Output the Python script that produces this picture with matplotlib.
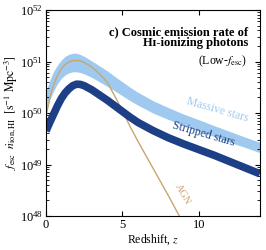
import numpy as np
import matplotlib
matplotlib.use("Agg")
from matplotlib import pyplot as plt

# redshift grid and log10 emission rates
z = [0, 0.25, 0.5, 0.75, 1, 1.25, 1.5, 1.75, 2, 2.25, 2.5, 2.75, 3, 3.5, 4,
     4.5, 5, 5.5, 6, 7, 8, 9, 10, 11, 12, 13, 14]
massive_mid = [50.22, 50.45, 50.62, 50.75, 50.85, 50.92, 50.96, 50.98, 50.98,
               50.96, 50.93, 50.89, 50.85, 50.76, 50.67, 50.57, 50.47, 50.37,
               50.28, 50.12, 49.99, 49.87, 49.76, 49.65, 49.54, 49.435, 49.33]
massive_halfwidth = [0.2, 0.19, 0.19, 0.18, 0.18, 0.18, 0.18, 0.18, 0.18,
                     0.175, 0.17, 0.165, 0.16, 0.155, 0.15, 0.14, 0.135, 0.13,
                     0.125, 0.12, 0.115, 0.11, 0.11, 0.105, 0.105, 0.1, 0.1]
stripped = [49.65, 49.82, 49.98, 50.14, 50.28, 50.39, 50.47, 50.53, 50.56,
            50.555, 50.53, 50.49, 50.45, 50.35, 50.25, 50.14, 50.03, 49.92,
            49.82, 49.66, 49.52, 49.40, 49.29, 49.18, 49.06, 48.94, 48.82]
z_agn = [0, 0.25, 0.5, 0.75, 1, 1.25, 1.5, 1.75, 2, 2.25, 2.5, 2.75, 3, 3.5,
         4, 4.5, 5, 5.5, 6, 7, 8, 9]
agn = [49.93, 50.3, 50.55, 50.73, 50.86, 50.94, 50.99, 51.02, 51.02, 51.01,
       50.98, 50.94, 50.89, 50.76, 50.6, 50.33, 50.04, 49.74, 49.46, 48.93,
       48.4, 47.85]

c_massive = '#9fc9ef'
c_stripped = '#1d3f86'
c_agn = '#c9a56f'

plt.rcParams['font.family'] = ['Liberation Serif', 'DejaVu Serif']
plt.rcParams['mathtext.fontset'] = 'stix'
plt.rcParams['font.size'] = 9

fig = plt.figure(figsize=(2.66, 2.5), dpi=100)
ax = fig.add_axes([0.173, 0.136, 0.804, 0.824])

mid = np.array(massive_mid)
hw = np.array(massive_halfwidth)
ax.fill_between(z, 10**(mid - hw), 10**(mid + hw), color=c_massive, lw=0)
ax.plot(z_agn, 10**np.array(agn), color=c_agn, lw=1.0)
ax.plot(z, 10**np.array(stripped), color=c_stripped, lw=5.5,
        solid_capstyle='butt', solid_joinstyle='round')

ax.set_yscale('log')
ax.set_xlim(0, 14)
ax.set_ylim(1e48, 1e52)
ax.set_xticks([0, 5, 10])
ax.tick_params(which='both', direction='in', top=True, right=True,
               labelsize=9, pad=2)
ax.tick_params(which='major', length=3.5)
ax.tick_params(which='minor', length=2)

ax.set_xlabel('Redshift, $z$', fontsize=8.5, labelpad=1)
ax.set_ylabel(r'$f_{\rm esc}\ \ \dot{n}_{\rm ion,HI}\ \ [{\rm s}^{-1}\ {\rm Mpc}^{-3}]$',
              fontsize=8.5, labelpad=0)

ax.text(0.945, 0.893, 'c) Cosmic emission rate of', transform=ax.transAxes,
        ha='right', va='center', fontsize=9, fontweight='bold')
ax.text(0.945, 0.838, 'H\u026a-ionizing photons', transform=ax.transAxes,
        ha='right', va='center', fontsize=9, fontweight='bold')
ax.text(0.94, 0.752, r'(Low-$f_{\rm esc}$)', transform=ax.transAxes,
        ha='right', va='center', fontsize=8.5)

ax.text(11.2, 10**50.06, 'Massive stars', color=c_massive, fontsize=8.5,
        rotation=-16, ha='center', va='center')
ax.text(10.3, 10**49.6, 'Stripped stars', color=c_stripped, fontsize=8.5,
        rotation=-16, ha='center', va='center')
ax.text(8.95, 10**48.42, 'AGN', color=c_agn, fontsize=7.5,
        rotation=-60, ha='center', va='center')

fig.savefig('out.png', dpi=100)
